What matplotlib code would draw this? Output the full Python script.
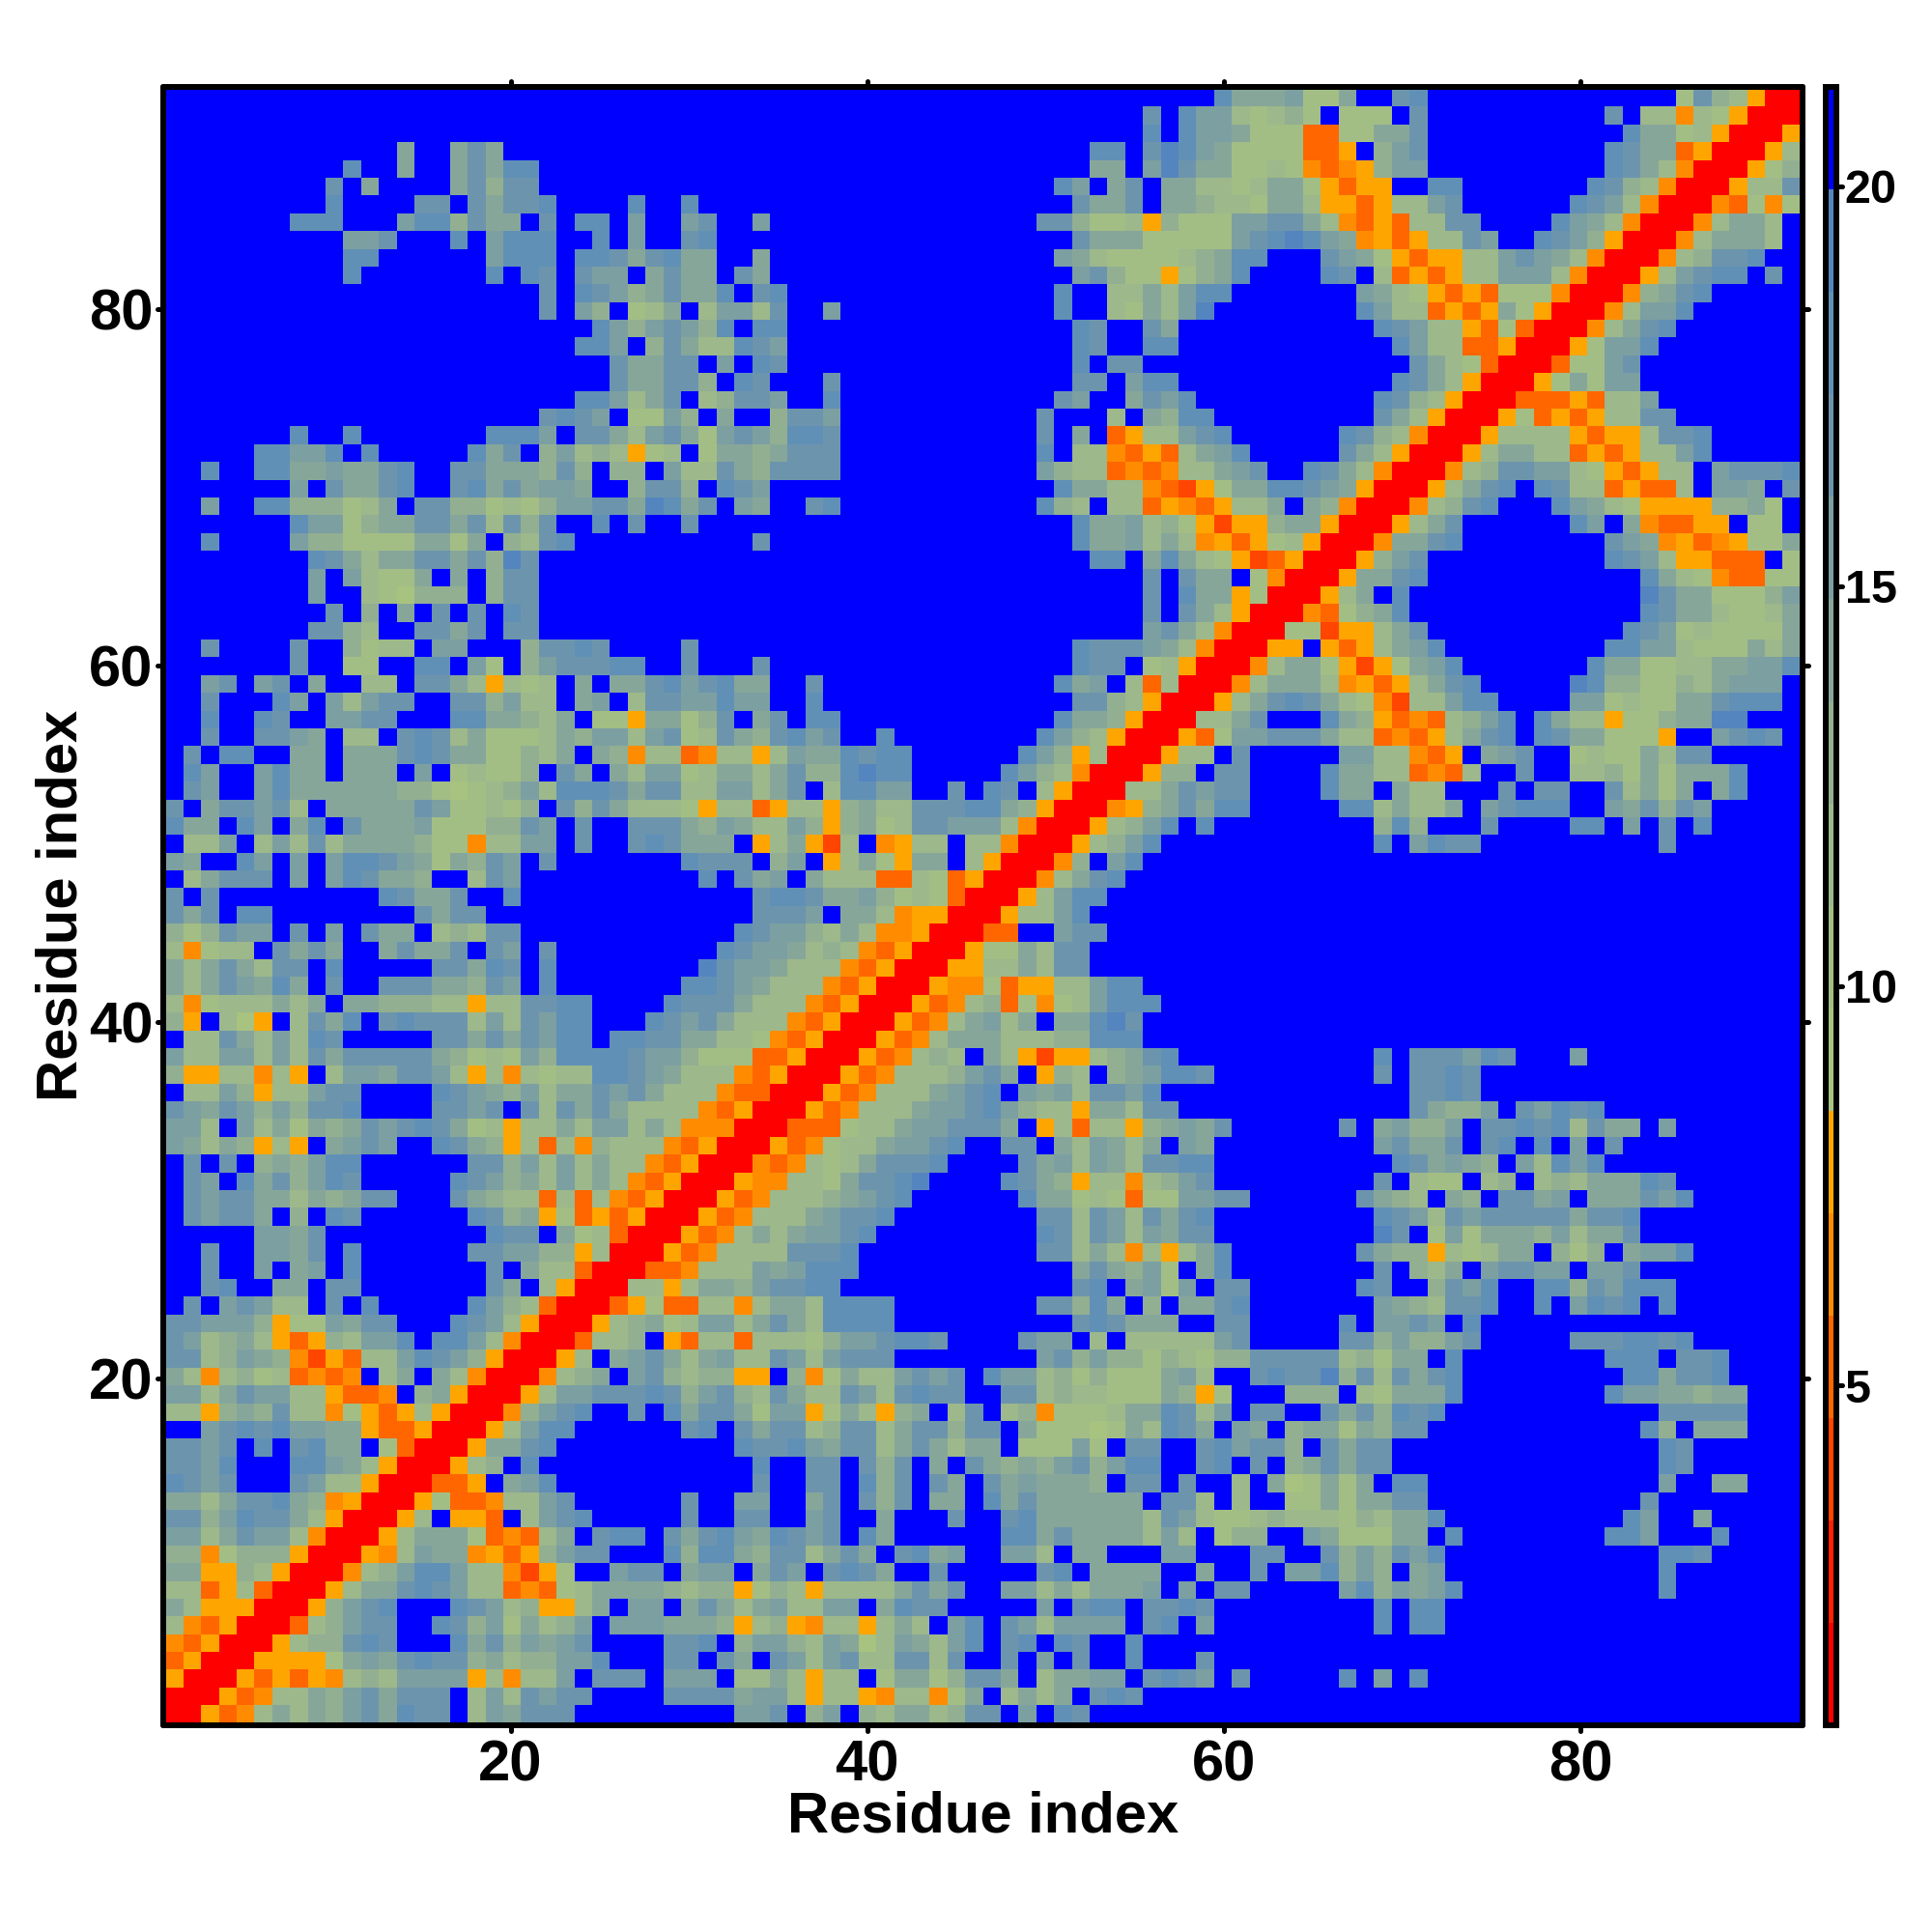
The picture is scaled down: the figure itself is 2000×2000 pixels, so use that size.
import numpy as np
import matplotlib
matplotlib.use("Agg")
import matplotlib.pyplot as plt
from matplotlib.colors import ListedColormap, BoundaryNorm
from matplotlib.markers import MarkerStyle

plt.rcParams['font.family'] = ['Liberation Sans', 'DejaVu Sans']
plt.rcParams['font.weight'] = 'bold'

N_RES = 92
LEVEL_EDGES = np.linspace(0.75, 21.25, 17)
LEVEL_COLORS = ['#FF0000', '#FF2200', '#FF4500', '#FF6600', '#FF8C00', '#FFA500',
                '#A8C280', '#A3BE84', '#9DB88A', '#92AF92', '#87A69A', '#7C9FA2',
                '#6C95AD', '#6190B6', '#5585BF', '#0000FF']
CBAR_TICKS = [5, 10, 15, 20]
AXIS_TICKS = [20, 40, 60, 80]
AXIS_LABEL = 'Residue index'

# Distance-map readings, one hex digit per cell (index into LEVEL_COLORS).
# Each row: "first_column:codes ..."; cells not listed are the top (blue) level.
# The map is symmetric, so only columns up to the diagonal are listed.
ROW_CODES = {
92: "60:d 61:aaab 65:77 67:a 70:c 71:d 86:7c98500",
91: "56:c 58:dbb 61:87897 67:777 71:c 82:c 84:88487500",
90: "56:d 58:dbb 61:a7773377aac 83:daa78500",
89: "14:a 17:aca 53:dd 56:cedba7777335 69:9bc 82:dcaa3500",
88: "11:d 14:a 17:acadd 53:aa 56:becaa778743459bb 82:dca8400",
87: "10:c 12:a 17:ac9cc 51:db 54:ac 57:aa8878aa75355 72:dd 81:dc98400",
86: "10:d 15:cc 18:caccd 27:d 30:d 52:caac 57:aa9887aa8553588bc 80:dcb8400",
85: "8:ddd 14:bdd9caa 22:c 24:dd 27:b 30:bc 34:b 50:cc977859777bbcca8435388cc 79:dba8400",
84: "11:bbc 17:d 19:bddd 25:d 27:b 30:cd 52:caaa77777bcdedba453588cb 78:dcb9500",
83: "11:dd 19:bddd 24:ddcacdaa 34:a 51:ba8777789add 66:cba7535588bcba8400",
82: "11:d 19:d 21:dc 24:cbb 28:acaa 33:ca 52:bc977579ad 66:dc 69:8353588bbb8400",
81: "22:c 24:dcb9acaad 34:cd 51:d 54:88a8bdd 68:ba875353777400",
80: "22:c 24:b9 27:78a 31:8bb8c 38:b 51:d 54:87a8be 68:db883535a7500",
79: "25:db9bcb9d 34:dd 52:dc 56:ca 69:dcb88537300",
78: "24:ddb 28:9ca88dcb 52:dc 56:dd 70:db8833500",
77: "26:caacc 32:b 34:dc 52:d 54:cc 71:ca87300",
76: "26:caacc9 33:dc 38:c 52:cc 55:bdd 70:dca8500",
75: "24:ddb8ac 31:89ccb 38:d 51:cb 55:acbd 69:dc98500",
74: "22:cdcb 27:77b9 32:a 35:9ccb 50:c 54:8 56:a9dd 69:ca8500",
73: "8:d 11:d 19:dddb 24:cca8bca7bcb9ddc 50:c 52:a 54:3588bcd 67:dc98400",
72: "6:ddbbd 12:d 18:dac 22:9b898578 31:7aa9accc 50:d 52:8843538abd 67:ca8500",
71: "3:d 6:ddaabaacd 17:ccaaa9c9 26:99 29:b88ca9cccc 50:b988343488abc 65:dca8400",
70: "8:b 10:caacd 17:cdacabba 27:9cc9 32:dcb 51:daa8843257aaddcba500",
69: "3:b 6:dd99978a 15:cc997879bbccaedac 33:ba 37:cd 50:d98 54:883543588a 65:a9400",
68: "8:dbb79aaccac8c9c 25:d 27:c 30:c 52:daab89752559aa500",
67: "3:d 8:b997777aa7a 20:98cd 34:c 52:daab8a8453578500",
66: "9:dca8aaccac9ec 53:dd 56:ada87523500",
65: "9:b 11:b877a 17:a 19:9cc 56:c 58:caa 62:7400",
64: "9:b 12:876999 19:9cc 56:c 58:daa5700",
63: "10:c 12:9 14:a 16:c 18:c 20:dc 56:c 58:ca85 62:00",
62: "9:cc98 15:ccac 20:cc 56:bca8400",
61: "3:c 8:c 11:9788 16:bb 21:9ccdc 30:c 52:dccc 56:ba8400",
60: "8:c 11:77 15:dd 18:b7 21:9bcccdd 30:c 34:c 52:dcc 56:78500",
59: "3:bc 6:bc 9:a 12:88 15:cca85878 24:a 26:aacdbcdaa 37:c 51:dab 55:83800",
58: "3:c 7:db 10:b8bcc 17:cc9b88 24:ab 27:8ccbbdbb 37:d 52:cc98500",
57: "3:d 6:dc 10:bbcc 17:ddaa98a 25:775aa79c 34:ac 37:dd 51:daa9500",
56: "3:c 6:ccba 11:88 14:cdc8a7778a9bb8bc78ca9cdbc 41:d 50:db98500",
55: "2:c 4:dd 8:aa 11:aaacdcaa7798a 25:a9488348858baadcdd 49:db95800",
54: "2:db 6:bdaa 11:aaa 15:b 17:78779 23:ca 26:a8bb78aa8ac99dedd 48:db98400",
53: "2:cb 6:bdaaaaaa9976789b8dddcacc88bb8ac 38:8ddbb 45:c 47:dc 50:8500",
52: "1:c 3:accbc8 10:aaaaacb77879 23:c9ca8887588358859a88cccdda9500",
51: "1:daa 5:db 8:ad 11:caaab77799cb 24:c 27:ccca9ba88b959a78ccbbb8400",
50: "2:88b 6:8b8c8aaaa977488bb 24:c 27:cdcaaa 34:58a528 41:4588 46:88400",
49: "1:ba 5:db 8:b 10:bddcba7a9cb 22:c 30:dccc 35:9b 38:58a75aa 46:8500",
48: "2:8accc 8:b 10:bdcaa9 18:8cb 31:d 33:cab 37:a88833873500",
47: "1:c 3:c 13:dcaac 20:d 34:cddcaab9787300",
46: "1:cac 5:dd 15:cacc 34:cccb 39:aa845500",
45: "1:979cbb 8:c 10:b 12:caa 16:898cc 33:dcbb98a844500",
44: "1:84788 7:caca 13:acaac 19:cb 22:c 32:dcbba89843500",
43: "1:a8aca8cc 10:d 16:ccadc 22:d 31:ecbba88843500",
42: "1:a8acbada 10:c 13:cccaa9cb 22:d 30:ddcba88843500",
41: "1:847888a8a 11:aa99988588ccdd 29:dccca88843500",
40: "1:95 4:865 8:8cad 13:cdccc8b8cbdd 28:dcbca88843500",
39: "2:88ca8b8dc 16:ccacacbdd 26:ddccaa88743500",
38: "1:b88bb8b8cacccccа9787b9ddddcbb977733500".replace("а", "a"),
37: "1:95588485 10:8bbaccb85848788ddcba88843500",
36: "2:88b9588bcc 16:dcba9b8aacbca88843300",
35: "1:cbacb9b9ccd 16:ccbc 21:c8caca888843500",
34: "1:bb8 5:b8a7a9acbcdca78588a8bb8a844400",
33: "1:ba8a9585 10:abcb 16:dca958384988843500",
32: "2:c 4:c 6:9a9bdd 18:cc9b8b8a8843500",
31: "2:cb 5:dac9bdc 17:dcb9a8b8a843500",
30: "2:cbccaa8a9acc 17:ca988383843500",
29: "2:cbcca 8:9 10:dc 18:dc9a57353500",
28: "6:bbac 19:dcc 23:a78300",
27: "3:c 6:bbac 11:d 18:ccbb995800",
26: "3:c 6:b 8:ab 11:d 19:c 21:a88300",
25: "3:cd 7:aa 10:cc 19:ca 22:8500",
24: "2:c 4:bcb88 10:c 12:d 18:db98300",
23: "1:ccbbb9577bacc 17:dcb8500",
22: "1:cb89a85359 11:8bbd 16:ddb8400",
21: "1:cc89ba9425388bdcb9500",
20: "1:a84897834 10:34 13:8a 16:a8400",
19: "1:bb8acbb885334 15:9a500",
18: "1:885 4:9a9c884 11:75358500",
17: "3:bcdcdbbaa533500",
16: "1:ccbc 6:d 8:cdaa 13:7300",
15: "1:ccbd 8:ddba8500",
14: "1:dcbc 8:cb88500",
13: "1:aa8accda94500",
12: "1:cc9bdcca8500",
11: "1:bb8acbb8400",
10: "1:9947999500",
9: "1:aa55985 8:00",
8: "1:88358300",
7: "1:a855500",
6: "1:843500",
5: "1:43500",
4: "1:3500",
3: "1:500",
2: "1:00",
1: "1:0",
}

levels = np.full((N_RES, N_RES), 15, dtype=int)
for row, text in ROW_CODES.items():
    for seg in text.split():
        start, codes = seg.split(':')
        for k, ch in enumerate(codes):
            col = int(start) + k
            if col <= N_RES:
                levels[row - 1, col - 1] = int(ch, 16)
                levels[col - 1, row - 1] = int(ch, 16)
mids = 0.5 * (LEVEL_EDGES[:-1] + LEVEL_EDGES[1:])
distance = mids[levels]

W = H = 2000
L, R, T, B = 169.0, 1866.0, 89.5, 1786.0
fig = plt.figure(figsize=(20, 20), dpi=100, facecolor='white')
ax = fig.add_axes([L / W, 1 - B / H, (R - L) / W, (B - T) / H])
cax = fig.add_axes([1889.5 / W, 1 - B / H, 11.5 / W, (B - T) / H])

cmap = ListedColormap(LEVEL_COLORS)
norm = BoundaryNorm(LEVEL_EDGES, cmap.N)
edges = np.linspace(0.66, 92.33, N_RES + 1)
mesh = ax.pcolormesh(edges, edges, distance, cmap=cmap, norm=norm,
                     shading='flat', antialiased=False, linewidth=0)
ax.set_xlim(0.525, 92.45)
ax.set_ylim(0.53, 92.47)
ax.set_facecolor('#0000FF')

ax.set_xticks(AXIS_TICKS)
ax.set_yticks(AXIS_TICKS)
ax.tick_params(axis='both', which='major', length=4.3, width=3.6, labelsize=43,
               top=True, right=True, bottom=True, left=True)
ax.tick_params(axis='x', pad=6)
ax.tick_params(axis='y', pad=3.5)
for s in ax.spines.values():
    s.set_linewidth(4.3)
    s.set_capstyle('round')

ax.set_xlabel(AXIS_LABEL, fontsize=43, fontweight='bold', va='center', ha='center')
ax.xaxis.set_label_coords(0.5, -(1881 - B) / (B - T))
ax.set_ylabel(AXIS_LABEL, fontsize=43, fontweight='bold', va='center', ha='center')
ax.yaxis.set_label_coords(-(L - 64) / (R - L), 0.5)

cb = fig.colorbar(mesh, cax=cax, spacing='proportional', ticks=CBAR_TICKS)
cb.ax.set_ylim(LEVEL_EDGES[0], LEVEL_EDGES[-1])
cb.outline.set_linewidth(4.3)
cb.outline.set_capstyle('round')
cb.solids.set_antialiased(False)
cb.ax.minorticks_off()
cb.ax.tick_params(axis='y', length=4.3, width=3.6, labelsize=35, pad=2, right=True, left=False)
cb.set_ticklabels([str(t) for t in CBAR_TICKS])

def round_ticks(axis):
    for tick in axis.get_major_ticks():
        for line in (tick.tick1line, tick.tick2line):
            line.set_marker(MarkerStyle(line.get_marker(), capstyle='round'))

round_ticks(ax.xaxis)
round_ticks(ax.yaxis)
round_ticks(cb.ax.yaxis)

fig.savefig('out.png', dpi=100, facecolor='white')
